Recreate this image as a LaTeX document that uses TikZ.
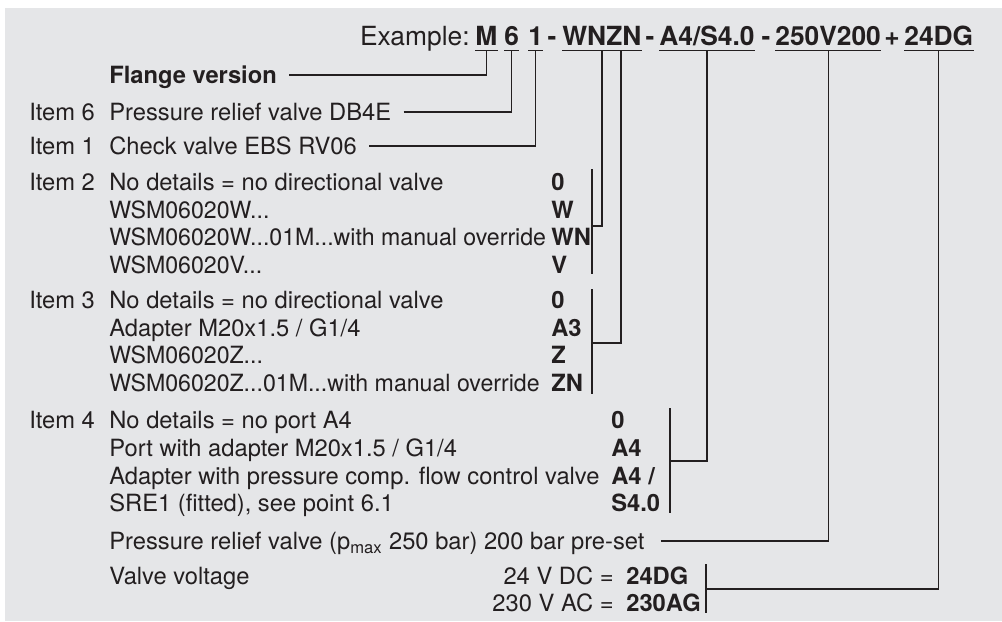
\documentclass[tikz,border=0pt]{standalone}
\usepackage{fontspec}
\setmainfont{TeX Gyre Heros}
\usepackage{tikz}
\usetikzlibrary{calc, positioning}

\definecolor{panel}{RGB}{229,230,232}
\definecolor{ink}{RGB}{35,31,32}

\begin{document}
\begin{tikzpicture}[x=0.2mm, y=-0.2mm, font=\fontsize{13.5}{16}\selectfont,
    txt/.style={inner sep=0pt, anchor=base west, text height=3.4mm, text depth=0pt, text=ink},
    narrow/.style={txt, font=\fontsize{13.5}{16}\selectfont\addfontfeature{FakeStretch=0.975}},
    code/.style={txt, font=\fontsize{13.5}{16}\selectfont\bfseries},
    ex/.style={inner sep=0pt, anchor=base west, text height=3.8mm, text depth=1mm, text=ink,
               font=\fontsize{15}{18}\selectfont\bfseries},
    lead/.style={draw=ink, line width=0.7pt}]

\useasboundingbox (0,0) rectangle (1002,621);
\fill[panel] (5,8) rectangle (1002,621);

% ── Example line ────────────────────────────────────────────────
\node[txt, anchor=base east, font=\fontsize{15}{18}\selectfont] (exlabel) at (470,45) {Example:};
\node[ex] (m) at (475,45) {M};
\node[ex] (six) at (504,45) {6};
\node[ex] (one) at (528,45) {1};
\node[ex, anchor=base] (dash1) at (552,45) {-};
\node[ex] (wnzn) at (562,45) {WNZN};
\node[ex, anchor=base] (dash2) at (650,45) {-};
\node[ex] (a4s4) at (659,45) {A4/S4.0};
\node[ex, anchor=base] (dash3) at (766,45) {-};
\node[ex] (dbv) at (775,45) {250V200};
\node[ex, anchor=base] (plus) at (892,45) {+};
\node[ex] (volt) at (904,45) {24DG};

\foreach \n in {m, six, one, wnzn, a4s4, dbv, volt}
    \draw[lead] (\n.south west) -- (\n.south east);

% ── Flange, item 6, item 1 ──────────────────────────────────────
\node[txt, font=\fontsize{13.5}{16}\selectfont\bfseries] (flange) at (109,83.5) {Flange version};
\node[txt] (it6) at (29,120.5) {Item 6};
\node[txt] (db4e) at (109,120.5) {Pressure relief valve DB4E};
\node[txt] (it1) at (29,154.5) {Item 1};
\node[txt] (rv06) at (109,154.5) {Check valve EBS RV06};

\draw[lead] ([xshift=2.4mm]flange.east) -| (m.south);
\draw[lead] ([xshift=2.4mm]db4e.east) -| (six.south);
\draw[lead] ([xshift=2.4mm]rv06.east) -| (one.south);

% ── Item 2 ──────────────────────────────────────────────────────
\node[txt] (it2) at (29,190.5) {Item 2};
\node[txt] (w0txt) at (109,190.5) {No details = no directional valve};
\node[code] (w0) at (551,190.5) {0};
\node[narrow] (wtxt) at (109,218.2) {WSM06020W...};
\node[code] (w) at (551,218.2) {W};
\node[narrow] (wntxt) at (109,245.9) {WSM06020W...01M...with manual override};
\node[code] (wn) at (551,245.9) {WN};
\node[narrow] (vtxt) at (109,273.6) {WSM06020V...};
\node[code] (vcode) at (551,273.6) {V};

\coordinate (b2t) at (592,169);
\coordinate (b2b) at (592,274);
\coordinate (b2c) at (592,226);
\draw[lead] (b2t) -- (b2b);
\draw[lead] (b2c) -| (wnzn.south);

% ── Item 3 ──────────────────────────────────────────────────────
\node[txt] (it3) at (29,308.5) {Item 3};
\node[txt] (z0txt) at (109,308.5) {No details = no directional valve};
\node[code] (z0) at (551,308.5) {0};
\node[txt] (a3txt) at (109,336.2) {Adapter M20x1.5 / G1/4};
\node[code] (a3) at (551,336.2) {A3};
\node[narrow] (ztxt) at (109,363.9) {WSM06020Z...};
\node[code] (z) at (551,363.9) {Z};
\node[narrow] (zntxt) at (109,391.6) {WSM06020Z...01M...with manual override};
\node[code] (zn) at (551,391.6) {ZN};

\coordinate (b3t) at (592,289);
\coordinate (b3b) at (592,394);
\coordinate (b3c) at (592,343);
\coordinate (wnzn-r) at ($(wnzn.south west)!0.74!(wnzn.south east)$);
\draw[lead] (b3t) -- (b3b);
\draw[lead] (b3c) -| (wnzn-r);

% ── Item 4 ──────────────────────────────────────────────────────
\node[txt] (it4) at (29,428.5) {Item 4};
\node[txt] (p0txt) at (109,428.5) {No details = no port A4};
\node[code] (p0) at (611,428.5) {0};
\node[txt] (a4txt) at (109,456.3) {Port with adapter M20x1.5 / G1/4};
\node[code] (a4) at (611,456.3) {A4};
\node[txt] (sretxt) at (109,484.1) {Adapter with pressure comp. flow control valve};
\node[code] (sre) at (611,484.1) {A4 /};
\node[txt] (s4txt) at (109,511.9) {SRE1 (fitted), see point 6.1};
\node[code] (s4) at (611,511.9) {S4.0};

\coordinate (b4t) at (670,408);
\coordinate (b4b) at (670,513);
\coordinate (b4c) at (670,461);
\draw[lead] (b4t) -- (b4b);
\draw[lead] (b4c) -| (a4s4.south);

% ── Pressure relief, valve voltage ──────────────────────────────
\node[txt] (pmax) at (109,549.5) {Pressure relief valve (p\textsubscript{max} 250 bar) 200 bar pre-set};
\draw[lead] ([xshift=3.2mm]pmax.east) -| (dbv.south);

\node[txt] (vv) at (109,584.5) {Valve voltage};
\node[txt, anchor=base east] (dc) at (614,584.5) {24 V DC =};
\node[code] (dg) at (626,584.5) {24DG};
\node[txt, anchor=base east] (ac) at (614,611.5) {230 V AC =};
\node[code] (ag) at (626,611.5) {230AG};

\coordinate (b5t) at (706,564);
\coordinate (b5b) at (706,613);
\coordinate (b5c) at (706,589);
\draw[lead] (b5t) -- (b5b);
\draw[lead] (b5c) -| (volt.south);

\end{tikzpicture}
\end{document}
